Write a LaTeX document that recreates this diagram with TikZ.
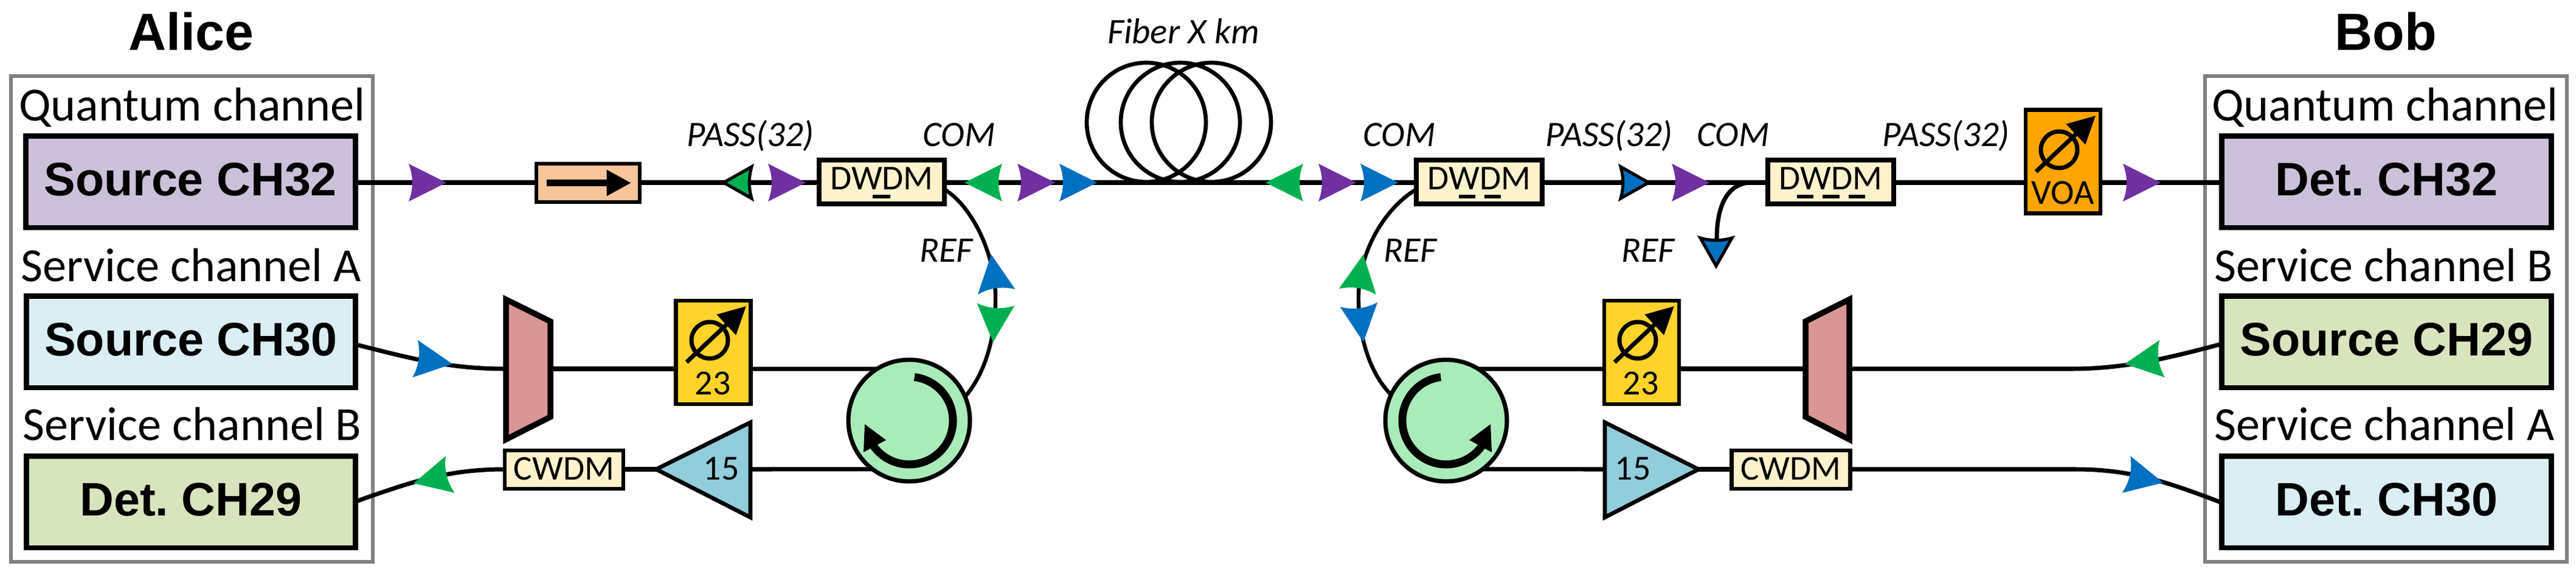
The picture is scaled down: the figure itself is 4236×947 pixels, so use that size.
\documentclass[tikz,border=0pt]{standalone}
\usepackage{fontspec}
\setmainfont{Carlito}
\newfontfamily\hdfont{Liberation Sans}
\usetikzlibrary{arrows.meta,calc}
\definecolor{cpurple}{HTML}{7030A0}
\definecolor{cblue}{HTML}{0070C0}
\definecolor{cgreen}{HTML}{00B050}
\definecolor{fch32}{HTML}{CCC1DA}
\definecolor{fcha}{HTML}{DBEEF4}
\definecolor{fchb}{HTML}{D7E4BD}
\definecolor{fwdm}{HTML}{FFF2CC}
\definecolor{fiso}{HTML}{F8C49A}
\definecolor{fatt}{HTML}{FFD32A}
\definecolor{fvoa}{HTML}{FFA500}
\definecolor{fmux}{HTML}{D99694}
\definecolor{famp}{HTML}{92CDDC}
\definecolor{fcirc}{HTML}{A9EBB9}
\frenchspacing
\tikzset{
  every node/.style={inner sep=0pt,outer sep=0pt},
  fibre/.style={line width=4pt},
  thinfibre/.style={line width=3.6pt},
  host/.style={draw=black!50,line width=3.4pt,fill=white},
  chbox/.style={draw=black,line width=5.1pt,minimum width=10.84cm,minimum height=3.02cm,
    font=\hdfont\bfseries\fontsize{44}{50}\selectfont,text height=0.9cm,text depth=0pt},
  wdm/.style={draw=black,line width=4.2pt,fill=fwdm,minimum height=1.44cm,
    font=\fontsize{32.5}{36}\selectfont,text depth=0pt},
  cw/.style={draw=black,line width=3.8pt,fill=fwdm,minimum width=3.9cm,minimum height=1.26cm,
    font=\fontsize{32.5}{36}\selectfont,text height=0.66cm,text depth=0pt},
  attbox/.style={draw=black,line width=3.8pt,minimum width=2.46cm,minimum height=3.4cm},
  circbox/.style={circle,draw=black,line width=4pt,fill=fcirc,minimum size=4cm},
  muxshape/.style={draw=black,line width=5.4pt,fill=fmux,line join=miter},
  ampshape/.style={draw=black,line width=3.8pt,fill=famp,line join=miter},
  chlabel/.style={anchor=base,font=\fontsize{44.5}{50}\selectfont},
  title/.style={anchor=base,font=\hdfont\bfseries\fontsize{49}{54}\selectfont},
  port/.style={anchor=base,font=\itshape\fontsize{33.5}{38}\selectfont},
  small/.style={anchor=base,font=\fontsize{33}{38}\selectfont},
  dashmark/.style={line width=2.9pt},
  mk/.pic={\fill[#1] (0,0) -- (-62,31) .. controls (-54,10) and (-54,-10) .. (-62,-31) -- cycle;},
  mko/.pic={\filldraw[fill=#1,draw=black,line width=2.9pt,miter limit=10] (0,0) -- (-46,26) .. controls (-41,9) and (-41,-9) .. (-46,-26) -- cycle;},
  phi/.pic={\draw[line width=4pt] (0,0) circle (30);
    \draw[line width=4pt,-{Triangle[length=25.5pt,width=25.3pt]}] (-38,-36) -- (60,56);},
  rot/.pic={\draw[line width=7.4pt] (83:72) arc (83:-150:72);
    \fill (-73,-6) -- (-38,-32) -- (-75,-52) -- cycle;}
}
\begin{document}
\begin{tikzpicture}[x=0.02cm,y=0.02cm]
\useasboundingbox (0,0) rectangle (4236,-947);
\coordinate (rowA) at (0,-300);
\coordinate (rowB) at (0,-606);
\coordinate (rowC) at (0,-771);
% hosts
\draw[host] (18,-125) rectangle (613,-923);
\draw[host] (3626,-125) rectangle (4221,-923);
\node[title] (alice) at (314,-82) {Alice};
\node[title] (bob) at (3923,-82) {Bob};
\node[chlabel] (la1) at (316,-198) {Quantum channel};
\node[chlabel] (la2) at (314,-462) {Service channel A};
\node[chlabel] (la3) at (316,-723) {Service channel B};
\node[chlabel] (lb1) at (3922,-198) {Quantum channel};
\node[chlabel] (lb2) at (3920,-462) {Service channel B};
\node[chlabel] (lb3) at (3921,-723) {Service channel A};
\node[chbox,fill=fch32] (srcq) at (313.5,-298.5) {Source CH32};
\node[chbox,fill=fcha] (srca) at (314,-561.5) {Source CH30};
\node[chbox,fill=fchb] (detb) at (314,-824.5) {Det. CH29};
\node[chbox,fill=fch32] (detq) at (3924.5,-298.5) {Det. CH32};
\node[chbox,fill=fchb] (srcb) at (3924.5,-561.5) {Source CH29};
\node[chbox,fill=fcha] (deta) at (3924.5,-824.5) {Det. CH30};
% in-line parts
\node[draw=black,line width=3pt,fill=fiso,minimum width=3.4cm,minimum height=1.26cm] (iso) at (967,-300.5) {};
\draw[line width=5.7pt,-{Triangle[length=23pt,width=23pt]}] ([xshift=-68*0.02cm]iso.center) -- ([xshift=71*0.02cm]iso.center);
\node[wdm,minimum width=4.12cm,text height=0.48cm] (dw1) at (1450,-299) {DWDM};
\node[wdm,minimum width=4.14cm,text height=0.48cm] (dw2) at (2432.5,-299) {DWDM};
\node[wdm,minimum width=4.14cm,text height=0.48cm] (dw3) at (3010.5,-299) {DWDM};
\draw[dashmark] (1435,-323) -- (1464,-323);
\draw[dashmark] (2399,-323) -- (2426,-323) (2441,-323) -- (2468,-323);
\draw[dashmark] (2955,-323) -- (2982,-323) (2997,-323) -- (3025,-323) (3040,-323) -- (3067,-323);
\node[attbox,fill=fvoa] (voa) at (3392.5,-265.5) {};
\node[small] (voat) at (3392,-335) {VOA};
\pic at (3386,-246) {phi};
\node[attbox,fill=fatt] (att1) at (1173,-579) {};
\node[small] (att1t) at (1172,-648) {23};
\pic at (1167,-559) {phi};
\node[attbox,fill=fatt] (att2) at (2699.5,-579) {};
\node[small] (att2t) at (2698,-648) {23};
\pic at (2693,-559) {phi};
\node[cw] (cw1) at (927.5,-771.5) {CWDM};
\node[cw] (cw2) at (2945,-771.5) {CWDM};
\node[circbox] (circ1) at (1495,-691) {};
\node[circbox] (circ2) at (2378,-691) {};
\pic at (circ1) {rot};
\pic[xscale=-1] at (circ2) {rot};
% multiplexers and amplifiers
\draw[muxshape] (832,-492) -- (905,-528) -- (905,-685) -- (832,-722) -- cycle;
\draw[muxshape] (3041,-492) -- (2969,-528) -- (2969,-685) -- (3041,-722) -- cycle;
\coordinate (m1l) at (832,-606);\coordinate (m1r) at (905,-606);
\coordinate (m2l) at (2969,-606);\coordinate (m2r) at (3041,-606);
\draw[ampshape] (1079,-771) -- (1234,-694) -- (1234,-850) -- cycle;
\draw[ampshape] (2793,-771) -- (2639,-694) -- (2639,-850) -- cycle;
\coordinate (a1t) at (1079,-771);\coordinate (a1b) at (1234,-771);
\coordinate (a2t) at (2793,-771);\coordinate (a2b) at (2639,-771);
\node[small] (a1n) at (1186,-788) {15};
\node[small] (a2n) at (2685,-788) {15};
% fibre spool
\coordinate (sp1) at (1885,-201);\coordinate (sp2) at (1941,-201);\coordinate (sp3) at (1992,-201);
\draw[line width=3.8pt] (sp1) circle (98) (sp2) circle (98) (sp3) circle (98);
\node[port] (fib) at (1946,-71) {Fiber X km};
% row 1
\draw[fibre] (srcq.east |- rowA) -- (iso.west |- rowA);
\draw[fibre] (iso.east |- rowA) -- (dw1.west |- rowA);
\draw[fibre] (dw1.east |- rowA) -- (dw2.west |- rowA);
\draw[fibre] (dw2.east |- rowA) -- (dw3.west |- rowA);
\draw[fibre] (dw3.east |- rowA) -- (voa.west |- rowA);
\draw[fibre] (voa.east |- rowA) -- (detq.west |- rowA);
% REF branches
\draw[thinfibre] ($(dw1.east)+(0,-12)$) .. controls (1600,-340) and (1637,-420) .. (1637,-489) .. controls (1637,-560) and (1618,-615) .. (circ1.23);
\draw[thinfibre] ($(dw2.west)+(0,-12)$) .. controls (2280,-340) and (2234,-410) .. (2234,-489) .. controls (2234,-560) and (2255,-615) .. (circ2.155);
\coordinate (refend) at (2823,-392);
\draw[fibre] (dw3.west |- rowA) -- (2880,-300) .. controls (2840,-300) and (2823,-340) .. (refend);
% row 2
\draw[fibre] (srca.east |- 0,-566) .. controls (680,-590) and (740,-606) .. (m1l);
\draw[fibre] (m1r) -- (att1.west |- rowB);
\draw[fibre] (att1.east |- rowB) -- (circ1.122);
\draw[fibre] (circ2.58) -- (att2.west |- rowB);
\draw[fibre] (att2.east |- rowB) -- (m2l);
\draw[fibre] (m2r) -- (3406,-606) .. controls (3490,-606) and (3560,-590) .. (srcb.west |- 0,-565);
% row 3
\draw[fibre] (cw1.west |- rowC) .. controls (740,-771) and (680,-790) .. (detb.east |- 0,-824);
\draw[fibre] (cw1.east |- rowC) -- (a1t);
\draw[fibre] (a1b) -- (circ1.233);
\draw[fibre] (circ2.-53) -- (a2b);
\draw[fibre] (a2t) -- (cw2.west |- rowC);
\draw[fibre] (cw2.east |- rowC) -- (3413,-771) .. controls (3500,-771) and (3560,-790) .. (deta.west |- 0,-826);
% port labels
\node[port] (p1) at (1234,-240) {PASS(32)};
\node[port] (c1) at (1577,-240) {COM};
\node[port] (r1) at (1556,-430) {REF};
\node[port] (c2) at (2301,-240) {COM};
\node[port] (r2) at (2319,-430) {REF};
\node[port] (p2) at (2646,-240) {PASS(32)};
\node[port] (c3) at (2850,-240) {COM};
\node[port] (r3) at (2710,-430) {REF};
\node[port] (p3) at (3200,-240) {PASS(32)};
% channel markers
\pic at (734,-300) {mk=cpurple};
\pic[rotate=-8] at (744,-598) {mk=cblue};
\pic[rotate=193.6] at (680,-794) {mk=cgreen};
\pic[rotate=180] at (1190,-300) {mko=cgreen};
\pic at (1325,-300) {mk=cpurple};
\pic[rotate=180] at (1586,-300) {mk=cgreen};
\pic at (1735,-300) {mk=cpurple};
\pic at (1804,-300) {mk=cblue};
\pic[rotate=98] at (1630,-418) {mk=cblue};
\pic[rotate=-94] at (1633,-562) {mk=cgreen};
\pic[rotate=180] at (2081,-300) {mk=cgreen};
\pic at (2230,-300) {mk=cpurple};
\pic at (2299,-300) {mk=cblue};
\pic[rotate=81] at (2242,-418) {mk=cgreen};
\pic[rotate=-83] at (2242,-562) {mk=cblue};
\pic at (2711,-300) {mko=cblue};
\pic at (2811,-300) {mk=cpurple};
\pic[rotate=-90] at (2822,-437) {mko=cblue};
\pic at (3553,-300) {mk=cpurple};
\pic[rotate=188] at (3494,-598) {mk=cgreen};
\pic[rotate=-12.6] at (3557,-793) {mk=cblue};
\end{tikzpicture}
\end{document}
